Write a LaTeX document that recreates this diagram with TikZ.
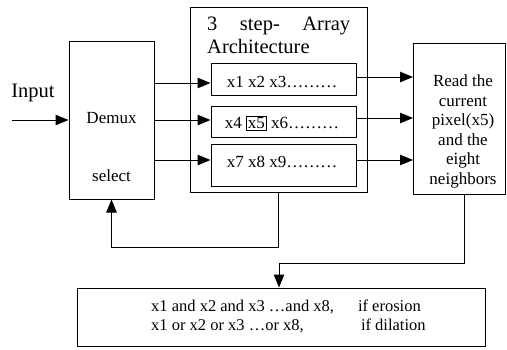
\documentclass[tikz,border=0pt]{standalone}
\usepackage{fontspec}
\setmainfont{Liberation Serif}
\usetikzlibrary{arrows.meta}
\begin{document}
\begin{tikzpicture}[x=1pt,y=-1pt,
  box/.style={draw, line width=1pt, inner sep=0, rectangle},
  arr/.style={line width=1pt, -{Triangle[length=13pt,width=10.5pt]}},
  txt/.style={font=\fontsize{17}{19.5}\selectfont, inner sep=0, align=center},
  big/.style={font=\fontsize{20.5}{23}\selectfont, inner sep=0}]
\useasboundingbox (0,0) rectangle (507,349);
% boxes
\node[box, minimum width=85pt, minimum height=158pt] (demux) at (111.5,120) {};
\node[box, minimum width=177pt, minimum height=185pt] (array) at (278.5,99.5) {};
\node[box, minimum width=145pt, minimum height=32pt] (r1) at (283.5,79) {};
\node[box, minimum width=145pt, minimum height=31pt] (r2) at (283.5,121.5) {};
\node[box, minimum width=145pt, minimum height=42pt] (r3) at (283.5,165) {};
\node[box, minimum width=92pt, minimum height=151pt] (read) at (459.5,118.5) {};
\node[box, minimum width=408pt, minimum height=58pt] (result) at (281,317) {};
% texts
\node[big] (inputlbl) at (33,93) {Input};
\node[txt] (demuxlbl) at (111.5,118) {Demux};
\node[txt] (selectlbl) at (111.5,176) {select};
\node[big, text width=143pt, align=left, anchor=north west] (title) at (207,17) {3\hfill step-\hfill Array\\Architecture};
\node[txt] (t1) at (282,82) {x1 x2 x3………};
\node[txt] (t2) at (282,123) {x4 {\fboxsep=1pt\fboxrule=0.8pt\fbox{x5}} x6………};
\node[txt] (t3) at (282,162) {x7 x8 x9………};
\node[txt] (readlbl) at (463,131.5) {Read the\\current\\pixel(x5)\\and the\\eight\\neighbors};
\node[txt, font=\fontsize{16.5}{19}\selectfont, anchor=west] (resultlbl) at (151,317.5) {\begin{tabular}{@{}l@{\hspace{24pt}}l@{}}x1 and x2 and x3 …and x8, & if erosion\\ x1 or x2 or x3 …or x8, & \hspace{3pt}if dilation\end{tabular}};
% connectors
\coordinate (inp) at (12,120);
\draw[arr] (inp) -- (demux.west |- inp);
\draw[arr] (demux.east |- 0,83) -- (r1.west |- 0,83);
\draw[arr] (demux.east |- 0,120) -- (r2.west |- 0,120);
\draw[arr] (demux.east |- 0,160) -- (r3.west |- 0,160);
\draw[arr] (r1.east |- 0,77) -- (read.west |- 0,77);
\draw[arr] (r2.east |- 0,118) -- (read.west |- 0,118);
\draw[arr] (r3.east |- 0,160) -- (read.west |- 0,160);
\coordinate (fb) at (278.5,247);
\draw[arr] (array.south) -- (fb) -| (demux.south);
\coordinate (rd) at (464,263);
\draw[arr] (read.south -| rd) -- (rd) -| (result.north -| 279,0);
\end{tikzpicture}
\end{document}
